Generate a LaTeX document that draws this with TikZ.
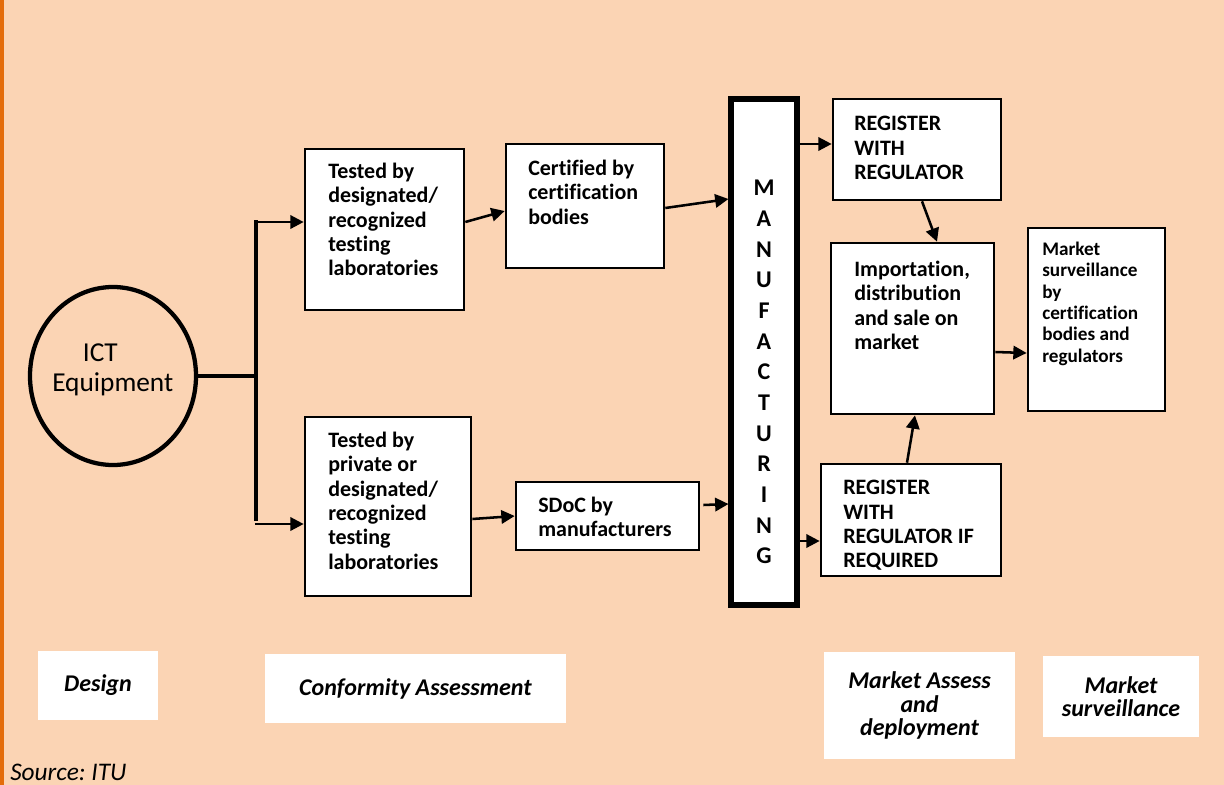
\documentclass[tikz,border=0pt]{standalone}
\usepackage{fontspec}
\setmainfont{Carlito}[Ligatures={NoCommon}]
\usetikzlibrary{arrows.meta,shapes.geometric}
\newdimen\pxu \pxu=0.75pt
\definecolor{bgc}{RGB}{251,212,180}
\definecolor{barc}{RGB}{228,108,10}
\frenchspacing
\tikzset{
 box/.style={draw, fill=white, line width=2pt, inner sep=0pt},
 lbl/.style={fill=white, inner sep=0pt, align=center, font=\fontsize{18}{17.3}\selectfont\bfseries\itshape},
 txt/.style={anchor=north west, inner sep=0pt, align=left, font=\fontsize{16.5}{18.3}\selectfont\bfseries},
 smalltxt/.style={anchor=north west, inner sep=0pt, align=left, font=\fontsize{14.4}{16}\selectfont\bfseries},
 arr/.style={line width=1.9pt, -{Triangle[length=10pt,width=10pt]}},
 branch/.style={line width=2.4pt},
}
\begin{document}
\begin{tikzpicture}[x=0.75pt,y=-0.75pt]
\fill[bgc] (0,0) rectangle (1224,785);
\fill[barc] (0,0) rectangle (4,785);
\useasboundingbox (0,0) rectangle (1224,785);

% circle
\node[draw, ellipse, line width=3.2pt, inner sep=0pt, minimum width=166\pxu, minimum height=178\pxu] (ict) at (113,376) {};
\node[anchor=north west, inner sep=0pt, align=left, font=\fontsize{20.5}{22.5}\selectfont] (t0) at (52,343) {\hspace{23pt}ICT\\Equipment};

% boxes
\node[box, minimum width=159\pxu, minimum height=161\pxu] (b1) at (384.5,229.5) {};
\node[box, minimum width=166\pxu, minimum height=179\pxu] (b2) at (388,506.5) {};
\node[box, minimum width=158\pxu, minimum height=124\pxu] (b3) at (585,206) {};
\node[box, minimum width=183\pxu, minimum height=68\pxu] (b4) at (607.5,516) {};
\node[box, line width=3.8pt, minimum width=66\pxu, minimum height=506\pxu] (mf) at (764,352) {};
\node[box, minimum width=168\pxu, minimum height=101\pxu] (b5) at (917,149.5) {};
\node[box, minimum width=163\pxu, minimum height=171\pxu] (b6) at (912.5,328.5) {};
\node[box, minimum width=137\pxu, minimum height=183\pxu] (b7) at (1096.5,319.5) {};
\node[box, minimum width=180\pxu, minimum height=112\pxu] (b8) at (911,520) {};

% texts
\node[txt] (t1) at (328,162.6) {Tested by\\designated/\\recognized\\testing\\laboratories};
\node[txt] (t3) at (528,159.6) {Certified by\\certification\\bodies};
\node[txt] (t2) at (328,431.6) {Tested by\\private or\\designated/\\recognized\\testing\\laboratories};
\node[txt] (t4) at (538,496.6) {SDoC by\\manufacturers};
\node[txt] (t5) at (854,116) {REGISTER\\WITH\\REGULATOR};
\node[txt] (t6) at (854,260.5) {Importation,\\distribution\\and sale on\\market};
\node[smalltxt] (t7) at (1042,241.8) {Market\\surveillance\\by\\certification\\bodies and\\regulators};
\node[txt] (t8) at (843,480) {REGISTER\\WITH\\REGULATOR IF\\REQUIRED};
\node[inner sep=0pt, align=center, font=\fontsize{18}{23}\selectfont\bfseries] (tm) at (764,372) {M\\A\\N\\U\\F\\A\\C\\T\\U\\R\\I\\N\\G};

% branch
\coordinate (j) at (256,376);
\coordinate (jt) at (256,222);
\coordinate (jb) at (256,521);
\coordinate (jbb) at (254.8,524);
\coordinate (jtt) at (254.8,222);
\draw[branch] (ict.east) -- (j);
\draw[branch] ([yshift=1.2pt]jt) -- (jb);

% arrows
\draw[arr] (jtt) -- (jtt -| b1.west);
\draw[arr] (jbb) -- (jbb -| b2.west);
\draw[arr] ([yshift=7.5\pxu]b1.east) -- ([yshift=-5\pxu]b3.west);
\draw[arr] ([yshift=-2\pxu]b3.east) -- ([yshift=153\pxu]mf.west);
\draw[arr] ([yshift=-12.5\pxu]b2.east) -- (b4.west);
\draw[arr] ([xshift=3\pxu,yshift=11\pxu]b4.east) -- ([yshift=-152\pxu]mf.west);
\draw[arr] ([yshift=208\pxu]mf.east) -- ([yshift=5.5\pxu]b5.west);
\draw[arr] ([yshift=-189\pxu]mf.east) -- ([yshift=-21\pxu]b8.west);
\draw[arr] ([xshift=5\pxu]b5.south) -- ([xshift=24.5\pxu]b6.north);
\draw[arr] ([xshift=-4\pxu]b8.north) -- ([xshift=2.5\pxu]b6.south);
\draw[arr] ([yshift=-23.5\pxu]b6.east) -- ([yshift=-33.5\pxu]b7.west);

% bottom labels
\node[lbl, minimum width=120\pxu, minimum height=69\pxu] (l1) at (98,685.5) {Design};
\node[lbl, minimum width=301\pxu, minimum height=69\pxu] (l2) at (415.5,688.5) {Conformity Assessment};
\node[lbl, minimum width=191\pxu, minimum height=107\pxu] (l3) at (919.5,705.5) {Market Assess\\and\\deployment};
\node[lbl, minimum width=156\pxu, minimum height=81\pxu] (l4) at (1121,696.5) {Market\\surveillance};

\node[anchor=west, inner sep=0pt, font=\fontsize{19}{22}\selectfont\itshape] (src) at (10,772) {Source: ITU};
\end{tikzpicture}
\end{document}
